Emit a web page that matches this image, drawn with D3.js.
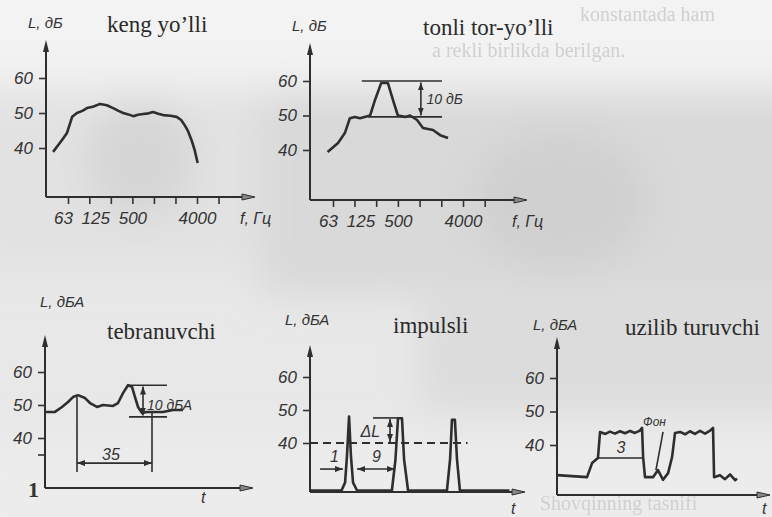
<!DOCTYPE html>
<html>
<head>
<meta charset="utf-8">
<script src="https://cdn.jsdelivr.net/npm/d3@7"></script>
<style>
  body { margin: 0; background: #e9e9e9; }
  svg { display: block; }
  .tick text { font-family: "Liberation Sans", Arial, sans-serif; font-style: italic; font-size: 17px; fill: #333; }
  .tick line { stroke: #333; stroke-width: 1.6px; }
  .lbl { font-family: "Liberation Sans", Arial, sans-serif; font-style: italic; fill: #333; }
  .title { font-family: "Liberation Serif", "Times New Roman", serif; font-size: 23px; fill: #2a2a2a; }
  .ghost { font-family: "Liberation Serif", serif; font-size: 20px; fill: #d0d0d0; }
</style>
</head>
<body>
<svg id="chart" width="772" height="517"></svg>
<script>
// keng yo'lli (broadband) spectrum
const broadF = [39, 52, 61, 72, 84, 100, 116, 140, 177, 220, 269, 320, 372, 440, 514, 600, 708, 840, 974, 1150, 1342, 1700, 2076, 2400, 2677, 3000, 3347, 3700, 4086];
const broadL = [38.9, 42.3, 44.3, 48.9, 50, 50.6, 51.4, 51.8, 52.6, 52.2, 51.4, 50.6, 50, 49.6, 49.1, 49.5, 49.7, 49.9, 50.3, 49.8, 49.4, 49.2, 48.9, 48, 46.6, 44.8, 42.3, 39.5, 35.7];

// tonli tor-yo'lli (tonal) spectrum
const toneF = [53, 74, 92, 108, 127, 149, 206, 241, 293, 364, 427, 500, 627, 737, 923, 1115, 1534, 1931, 2480];
const toneL = [39.4, 42, 44.9, 49.2, 49.6, 49.2, 50, 54.5, 59.4, 59.4, 54.5, 50, 49.6, 50, 48.7, 46.4, 45.8, 44.3, 43.5];

// tebranuvchi (fluctuating) level vs time
const flucT = [0, 5, 8.5, 11.5, 14, 16.5, 20, 22.5, 26, 29, 34, 36.5, 39, 41.5, 43.5, 45, 46.5, 48.5, 51, 54, 59, 64, 69];
const flucL = [47.9, 47.9, 49.4, 50.9, 52.4, 53, 52.1, 50.6, 49.4, 50, 49.7, 50.6, 53.6, 56, 55.5, 52.4, 49.4, 47.6, 47.9, 47.9, 47.9, 48.5, 48.5];

// impulsli (impulse) level vs time
const pulseT = [0, 15, 16.7, 17.6, 18.6, 19.5, 20.5, 22.4, 39, 40.7, 41.9, 43.8, 44.8, 46.7, 65.2, 66.7, 67.6, 69, 70, 71.4, 95];
const pulseL = [25.6, 25.6, 28, 36, 48, 36, 28, 25.6, 25.6, 35, 47.5, 47.5, 35, 25.6, 25.6, 35, 47, 47, 35, 25.6, 25.6];

// uzilib turuvchi (intermittent) level vs time
const interT = [0, 14.3, 16.7, 19.5, 20.5, 23, 25.2, 27.6, 30, 32.4, 34.8, 37.1, 39.5, 40.5, 41, 41.9, 45.7, 48.1, 50.5, 52.9, 54.8, 56.2, 58.6, 61, 63.3, 65.7, 68.1, 70.5, 72.9, 74.3, 74.8, 77.6, 80, 82.4, 84.8, 85.7];
const interL = [31, 30.4, 34.6, 36.1, 43.9, 43.3, 44, 43.4, 44.1, 43.5, 44.2, 43.6, 44.3, 45.1, 36.4, 30.4, 30.4, 32.5, 29.6, 31.6, 36.4, 43.6, 43.9, 43.2, 44.1, 43.3, 44.2, 43.4, 44.3, 45.1, 30.4, 31, 29.8, 31.2, 29.5, 30];

// axis ticks
const octaveBands = [63, 125, 250, 500, 1000, 2000, 4000, 8000];
const bandLabels = [63, 125, 500, 4000];
const levelTicks = [40, 50, 60];

const ink = "#2e2e2e";
const svg = d3.select("#chart");

// scanned paper background
const defs = svg.append("defs");
defs.append("filter").attr("id", "blur").attr("x", "-20%").attr("y", "-20%").attr("width", "140%").attr("height", "140%")
  .append("feGaussianBlur").attr("stdDeviation", 18);
defs.append("filter").attr("id", "soft").append("feGaussianBlur").attr("stdDeviation", 0.7);
defs.append("marker").attr("id", "ah")
  .attr("viewBox", "0 0 8 6").attr("refX", 8).attr("refY", 3)
  .attr("markerWidth", 8).attr("markerHeight", 6).attr("markerUnits", "userSpaceOnUse")
  .attr("orient", "auto-start-reverse")
  .append("path").attr("d", "M0,0L8,3L0,6Z").attr("fill", ink);

svg.append("rect").attr("width", 772).attr("height", 517).attr("fill", "#e8e8e8");
const bg = svg.append("g").attr("filter", "url(#blur)");
bg.append("rect").attr("x", -40).attr("y", -40).attr("width", 860).attr("height", 120).attr("fill", "#f3f3f3");
bg.append("rect").attr("x", 260).attr("y", 95).attr("width", 560).attr("height", 200).attr("fill", "#d9d9d9");
bg.append("rect").attr("x", -40).attr("y", 100).attr("width", 300).attr("height", 170).attr("fill", "#e2e2e2");
bg.append("ellipse").attr("cx", 140).attr("cy", 160).attr("rx", 55).attr("ry", 60).attr("fill", "#d6d6d6");
bg.append("ellipse").attr("cx", 560).attr("cy", 200).attr("rx", 90).attr("ry", 70).attr("fill", "#d0d0d0");
bg.append("rect").attr("x", 420).attr("y", 300).attr("width", 400).attr("height", 110).attr("fill", "#dcdcdc");
bg.append("rect").attr("x", -40).attr("y", 440).attr("width", 860).attr("height", 120).attr("fill", "#ececec");

// faint bleed-through text of the scanned page
const ghost = svg.append("g").attr("filter", "url(#soft)");
ghost.append("text").attr("class", "ghost").attr("x", 580).attr("y", 21).attr("font-size", 16).text("konstantada ham");
ghost.append("text").attr("class", "ghost").attr("x", 432).attr("y", 57).text("a rekli birlikda berilgan.");
ghost.append("text").attr("class", "ghost").attr("x", 540).attr("y", 510).attr("font-size", 18).text("Shovqinning tasnifi");

function axes(o, x, y, yTicks, yFmt) {
  const g = svg.append("g");
  // y axis with arrow
  g.append("line").attr("x1", o.ox).attr("x2", o.ox).attr("y1", o.oy).attr("y2", o.top + 4)
    .attr("stroke", ink).attr("stroke-width", 2);
  g.append("path").attr("d", `M${o.ox - 3},${o.top + 12}L${o.ox},${o.top}L${o.ox + 3},${o.top + 12}Z`).attr("fill", ink);
  // x axis with arrow
  g.append("line").attr("x1", o.ox).attr("x2", o.right - 6).attr("y1", o.oy).attr("y2", o.oy)
    .attr("stroke", ink).attr("stroke-width", 2);
  g.append("path").attr("d", `M${o.right - 13},${o.oy - 3}L${o.right},${o.oy}L${o.right - 13},${o.oy + 3}Z`)
    .attr("fill", "#888").attr("stroke", ink).attr("stroke-width", 1);

  const ya = g.append("g").attr("transform", `translate(${o.ox},0)`)
    .call(d3.axisLeft(y).tickValues(yTicks).tickSize(7).tickPadding(6).tickFormat(yFmt));
  ya.select(".domain").remove();
  return g;
}

function lineOf(x, y) {
  return d3.line().x(d => x(d[0])).y(d => y(d[1]));
}

function curve(g, pts, x, y) {
  g.append("path").datum(pts)
    .attr("fill", "none").attr("stroke", ink).attr("stroke-width", 2.6)
    .attr("stroke-linejoin", "round").attr("d", lineOf(x, y));
}

function seg(g, x, y, a, b, opts = {}) {
  const p = g.append("line")
    .attr("x1", x(a[0])).attr("y1", y(a[1])).attr("x2", x(b[0])).attr("y2", y(b[1]))
    .attr("stroke", ink).attr("stroke-width", opts.w || 1.6);
  if (opts.dash) p.attr("stroke-dasharray", opts.dash);
  if (opts.start) p.attr("marker-start", "url(#ah)");
  if (opts.end) p.attr("marker-end", "url(#ah)");
  return p;
}

function label(g, txt, px, py, size, cls) {
  return g.append("text").attr("class", cls || "lbl").attr("x", px).attr("y", py)
    .attr("font-size", size).text(txt);
}

// ---- frequency spectrum panels ----
function spectrumPanel(o, F, L, title) {
  const x = d3.scaleLog().domain([63, 4000]).range([o.x63, o.x4000]);
  const y = d3.scaleLinear().domain([40, 60]).range([o.y40, o.y60]);
  const g = axes(o, x, y, levelTicks, d => d);
  const xa = g.append("g").attr("transform", `translate(0,${o.oy})`)
    .call(d3.axisBottom(x).tickValues(octaveBands).tickSize(7).tickPadding(8)
      .tickFormat(d => bandLabels.includes(d) ? d : ""));
  xa.select(".domain").remove();
  xa.selectAll(".tick text").attr("dx", d => d === 63 ? -5 : d === 125 ? 6 : 0);
  curve(g, F.map((f, i) => [f, L[i]]), x, y);
  label(g, "L, дБ", o.ox - 18, o.top - 12, 15);
  label(g, title, o.titleX, o.top - 8, 23, "title");
  label(g, "f, Гц", o.right - 15, o.oy + 27, 16);
  return { g, x, y };
}

const p1 = spectrumPanel({ ox: 46, oy: 197, top: 40, right: 255, x63: 68, x4000: 197, y40: 148, y60: 78, titleX: 107 },
  broadF, broadL, "keng yo’lli");

const p2 = spectrumPanel({ ox: 310, oy: 200, top: 43, right: 527, x63: 333, x4000: 463, y40: 150, y60: 81, titleX: 423 },
  toneF, toneL, "tonli tor-yo’lli");
// tonal excess marker
seg(p2.g, p2.x, p2.y, [158, 60], [2046, 60]);
seg(p2.g, p2.x, p2.y, [193, 49.6], [2046, 49.6]);
seg(p2.g, p2.x, p2.y, [1042, 59.6], [1042, 50], { start: true, end: true });
label(p2.g, "10 дБ", p2.x(1250), p2.y(53.2), 14);

// ---- time history panels ----
function timePanel(o, T, L, title, yTicks) {
  const x = d3.scaleLinear().domain([0, 100]).range([o.ox, o.ox + o.w]);
  const y = d3.scaleLinear().domain([40, 60]).range([o.y40, o.y60]);
  const g = axes(o, x, y, yTicks, d => levelTicks.includes(d) ? d : "");
  curve(g, T.map((t, i) => [t, L[i]]), x, y);
  label(g, "L, дБА", o.labX, o.labY, 15);
  label(g, title, o.titleX, o.titleY, 23, "title");
  label(g, "t", o.tX, o.tY, 16);
  return { g, x, y };
}

const p3 = timePanel({ ox: 45, oy: 488, top: 335, right: 253, w: 200, y40: 438, y60: 372, labX: 40, labY: 307,
  titleX: 107, titleY: 339, tX: 201, tY: 503 }, flucT, flucL, "tebranuvchi", [35, 40, 50, 60]);
seg(p3.g, p3.x, p3.y, [41, 56], [61, 56]);
seg(p3.g, p3.x, p3.y, [42, 46.4], [61, 46.4]);
seg(p3.g, p3.x, p3.y, [49, 55.6], [49, 46.8], { start: true, end: true });
seg(p3.g, p3.x, p3.y, [16, 52.5], [16, 29.7]);
seg(p3.g, p3.x, p3.y, [53.5, 47.6], [53.5, 29.7]);
seg(p3.g, p3.x, p3.y, [16, 32.4], [53.5, 32.4], { start: true, end: true });
label(p3.g, "10 дБА", p3.x(51), p3.y(48.4), 14);
label(p3.g, "35", p3.x(28.5), p3.y(33.4), 16);
svg.append("text").attr("x", 28).attr("y", 497).attr("font-family", "Liberation Serif, serif")
  .attr("font-size", 22).attr("font-weight", "bold").attr("fill", "#333").text("1");

const p4 = timePanel({ ox: 310, oy: 492, top: 345, right: 525, w: 210, y40: 443, y60: 377, labX: 285, labY: 325,
  titleX: 393, titleY: 333, tX: 511, tY: 514 }, pulseT, pulseL, "impulsli", levelTicks);
seg(p4.g, p4.x, p4.y, [0, 40], [75, 40], { dash: "8,5", w: 1.8 });
seg(p4.g, p4.x, p4.y, [30, 47.6], [43, 47.6]);
seg(p4.g, p4.x, p4.y, [38.1, 47.3], [38.1, 40.3], { start: true, end: true });
seg(p4.g, p4.x, p4.y, [4.8, 32.1], [15.7, 32.1], { end: true });
seg(p4.g, p4.x, p4.y, [22.4, 32.1], [40.5, 32.1], { start: true, end: true });
label(p4.g, "ΔL", p4.x(24), p4.y(41.8), 16);
label(p4.g, "1", p4.x(9.5), p4.y(34.2), 16);
label(p4.g, "9", p4.x(29.5), p4.y(34.2), 16);

const p5 = timePanel({ ox: 557, oy: 495, top: 337, right: 770, w: 210, y40: 445, y60: 378, labX: 533, labY: 330,
  titleX: 625, titleY: 335, tX: 762, tY: 514 }, interT, interL, "uzilib turuvchi", levelTicks);
seg(p5.g, p5.x, p5.y, [19.5, 36.1], [41, 36.1]);
seg(p5.g, p5.x, p5.y, [50.5, 43.9], [47.1, 32.5]);
label(p5.g, "3", p5.x(28.3), p5.y(37.6), 16);
label(p5.g, "Фон", p5.x(41), p5.y(45.6), 12);
</script>
</body>
</html>
